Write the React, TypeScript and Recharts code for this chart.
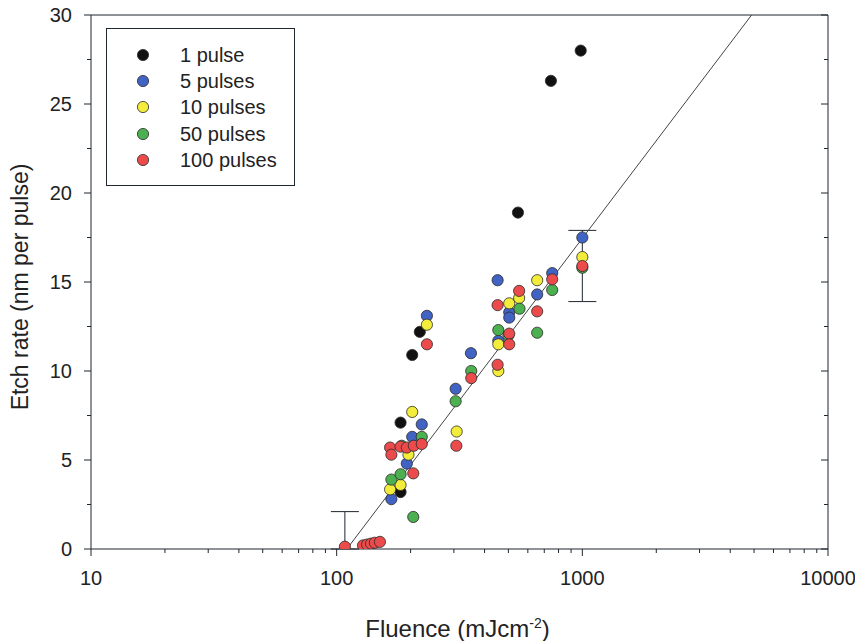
import React from 'react';
import { ScatterChart, Scatter, XAxis, YAxis, Legend, ErrorBar } from 'recharts';

// fluence (mJ/cm2) vs etch rate (nm per pulse)
const onePulse = [
  { f: 182, r: 3.2 }, { f: 182, r: 7.1 }, { f: 203, r: 10.9 }, { f: 218, r: 12.2 },
  { f: 547, r: 18.9 }, { f: 745, r: 26.3 }, { f: 985, r: 28.0 },
];
const fivePulses = [
  { f: 167, r: 2.8 }, { f: 193, r: 4.8 }, { f: 203, r: 6.3 }, { f: 222, r: 7.0 },
  { f: 233, r: 13.1 }, { f: 305, r: 9.0 }, { f: 352, r: 11.0 }, { f: 452, r: 15.1 },
  { f: 455, r: 11.7 }, { f: 504, r: 13.3 }, { f: 504, r: 13.0 }, { f: 655, r: 14.3 },
  { f: 754, r: 15.5 }, { f: 1000, r: 17.5 },
];
const tenPulses = [
  { f: 165, r: 3.35 }, { f: 182, r: 3.6 }, { f: 196, r: 5.3 }, { f: 203, r: 7.7 },
  { f: 233, r: 12.6 }, { f: 308, r: 6.6 }, { f: 455, r: 11.5 }, { f: 455, r: 10.0 },
  { f: 504, r: 13.8 }, { f: 553, r: 14.1 }, { f: 655, r: 15.1 }, { f: 1000, r: 16.4 },
];
const fiftyPulses = [
  { f: 167, r: 3.9 }, { f: 182, r: 4.2 }, { f: 184, r: 5.8 }, { f: 205, r: 1.8 },
  { f: 222, r: 6.3 }, { f: 305, r: 8.3 }, { f: 353, r: 10.0 }, { f: 455, r: 12.3 },
  { f: 500, r: 12.0 }, { f: 555, r: 13.5 }, { f: 655, r: 12.15 }, { f: 754, r: 14.55 },
  { f: 1000, r: 15.8 },
];
const hundredPulses = [
  { f: 108, r: 0.13 }, { f: 128, r: 0.2 }, { f: 133, r: 0.25 }, { f: 138, r: 0.3 },
  { f: 143, r: 0.35 }, { f: 150, r: 0.4 }, { f: 165, r: 5.7 }, { f: 167, r: 5.3 },
  { f: 182, r: 5.75 }, { f: 193, r: 5.7 }, { f: 205, r: 4.25 }, { f: 206, r: 5.8 },
  { f: 222, r: 5.9 }, { f: 233, r: 11.5 }, { f: 307, r: 5.8 }, { f: 353, r: 9.6 },
  { f: 452, r: 13.7 }, { f: 452, r: 10.35 }, { f: 504, r: 12.1 }, { f: 504, r: 11.5 },
  { f: 553, r: 14.5 }, { f: 655, r: 13.35 }, { f: 754, r: 15.15 }, { f: 1000, r: 15.9 },
];
const errorPoints = [
  { f: 108, r: 0.13, err: [0.13, 1.97] },
  { f: 1000, r: 15.9, err: [2.0, 2.0] },
];
const fitLine = [{ f: 110, r: 0 }, { f: 4887, r: 30 }];

const xMajor = [10, 100, 1000, 10000];
const xTicks = [
  10, 20, 30, 40, 50, 60, 70, 80, 90,
  100, 200, 300, 400, 500, 600, 700, 800, 900,
  1000, 2000, 3000, 4000, 5000, 6000, 7000, 8000, 9000, 10000,
];
const yTicks = [0, 2.5, 5, 7.5, 10, 12.5, 15, 17.5, 20, 22.5, 25, 27.5, 30];

const series = [
  { name: '1 pulse', data: onePulse, color: '#111111' },
  { name: '5 pulses', data: fivePulses, color: '#4063c4' },
  { name: '10 pulses', data: tenPulses, color: '#f3ec3a' },
  { name: '50 pulses', data: fiftyPulses, color: '#4cb050' },
  { name: '100 pulses', data: hundredPulses, color: '#ec4b4b' },
];

const FONT = '"Liberation Sans", Arial, sans-serif';
const INK = '#1e2630';

const isMajorY = (v: number) => v % 5 === 0;

function BottomTick(props: any) {
  const { x, y, payload } = props;
  const major = xMajor.includes(payload.value);
  return (
    <g>
      <line x1={x} x2={x} y1={y} y2={y + (major ? 7 : 4)} stroke={INK} />
      {major && (
        <text x={x} y={y + 36} textAnchor="middle" fontSize={20} fontFamily={FONT} fill="#222">
          {payload.value}
        </text>
      )}
    </g>
  );
}

function TopTick(props: any) {
  const { x, y, payload } = props;
  const major = xMajor.includes(payload.value);
  return <line x1={x} x2={x} y1={y} y2={y + (major ? 7 : 4)} stroke={INK} />;
}

function LeftTick(props: any) {
  const { x, y, payload } = props;
  const major = isMajorY(payload.value);
  return (
    <g>
      <line x1={x} x2={x - (major ? 7 : 4)} y1={y} y2={y} stroke={INK} />
      {major && (
        <text x={x - 19} y={y + 7} textAnchor="end" fontSize={20} fontFamily={FONT} fill="#222">
          {payload.value}
        </text>
      )}
    </g>
  );
}

function RightTick(props: any) {
  const { x, y, payload } = props;
  const major = isMajorY(payload.value);
  return <line x1={x} x2={x - (major ? 7 : 4)} y1={y} y2={y} stroke={INK} />;
}

const dot = (color: string) => (props: any) =>
  <circle cx={props.cx} cy={props.cy} r={5.6} fill={color} stroke="#2a2a2a" strokeWidth={0.8} />;

const nothing = () => <g />;

// legend drawn from the series list so it keeps the figure's order
function LegendBox() {
  return (
    <div style={{ position: 'relative', width: 189, height: 158, border: `1px solid ${INK}`, boxSizing: 'border-box', background: '#fff', fontFamily: FONT }}>
      {series.map((s, i) => (
        <div key={s.name} style={{ position: 'absolute', left: 0, top: 26 + i * 26.2 - 13, height: 26, width: 187 }}>
          <svg width={20} height={26} style={{ position: 'absolute', left: 26, top: 0 }}>
            <circle cx={10} cy={13} r={5.6} fill={s.color} stroke="#2a2a2a" strokeWidth={0.8} />
          </svg>
          <span style={{ position: 'absolute', left: 73, top: 1, fontSize: 20, lineHeight: '24px', color: '#222', whiteSpace: 'nowrap' }}>{s.name}</span>
        </div>
      ))}
    </div>
  );
}

function XLabel(props: any) {
  const vb = props.viewBox;
  return (
    <text x={vb.x + vb.width / 2 - 2} y={vb.y + 88} textAnchor="middle" fontSize={24} fontFamily={FONT} fill="#222">
      Fluence (mJcm<tspan dy={-9} fontSize={14}>-2</tspan><tspan dy={9}>)</tspan>
    </text>
  );
}

function YLabel(props: any) {
  const vb = props.viewBox;
  const cx = 20;
  const cy = vb.y + vb.height / 2 + 5;
  return (
    <text x={cx} y={cy} transform={`rotate(-90, ${cx}, ${cy})`} textAnchor="middle" dominantBaseline="central" fontSize={23} fontFamily={FONT} fill="#222">
      Etch rate (nm per pulse)
    </text>
  );
}

export default function App() {
  return (
    <div style={{ margin: '-8px 0 0 -8px', width: 863, height: 641 }}>
      <ScatterChart width={863} height={641} margin={{ top: 15, right: 35, bottom: 0, left: 0 }}>
        <XAxis
          dataKey="f" type="number" scale="log" domain={[10, 10000]} allowDataOverflow
          ticks={xTicks} interval={0} tickSize={0} tickMargin={0} height={92}
          tick={BottomTick} axisLine={{ stroke: INK }} label={<XLabel />}
        />
        <XAxis
          xAxisId="top" orientation="top" mirror type="number" scale="log" domain={[10, 10000]} allowDataOverflow
          ticks={xTicks} interval={0} tickSize={0} tickMargin={0} tick={TopTick} axisLine={{ stroke: INK }}
        />
        <YAxis
          dataKey="r" type="number" domain={[0, 30]} allowDataOverflow ticks={yTicks} interval={0}
          tickSize={0} tickMargin={0} width={91} tick={LeftTick} axisLine={{ stroke: INK }} label={<YLabel />}
        />
        <YAxis
          yAxisId="right" orientation="right" mirror type="number" domain={[0, 30]} allowDataOverflow ticks={yTicks}
          interval={0} tickSize={0} tickMargin={0} tick={RightTick} axisLine={{ stroke: INK }}
        />
        <Legend
          layout="vertical" align="center" verticalAlign="middle"
          wrapperStyle={{ left: 106, top: 28, width: 189, height: 158 }}
          content={<LegendBox />}
        />
        <Scatter name="fit" data={fitLine} line={{ stroke: '#444', strokeWidth: 1 }} shape={nothing} legendType="none" isAnimationActive={false} />
        <Scatter name="err" data={errorPoints} shape={nothing} legendType="none" isAnimationActive={false}>
          <ErrorBar dataKey="err" direction="y" width={14} stroke={INK} strokeWidth={1} isAnimationActive={false} />
        </Scatter>
        {series.map((s) => (
          <Scatter key={s.name} name={s.name} data={s.data} fill={s.color} shape={dot(s.color)} isAnimationActive={false} />
        ))}
      </ScatterChart>
    </div>
  );
}
